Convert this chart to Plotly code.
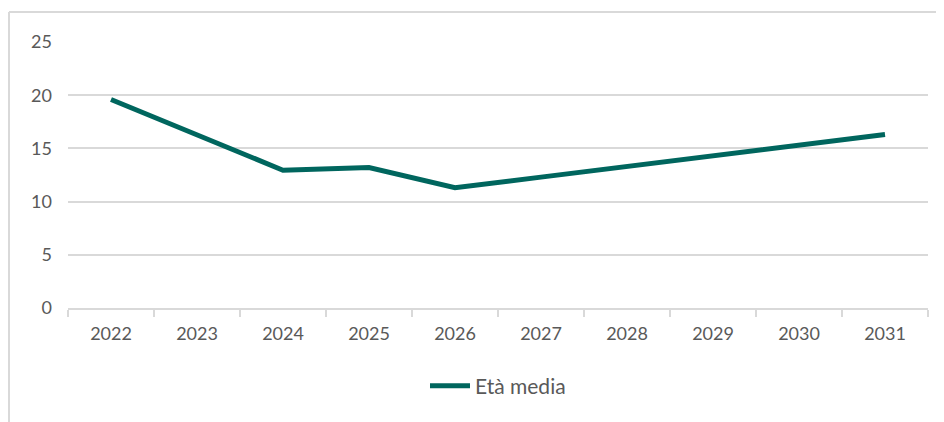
import plotly.graph_objects as go

years = ["2022", "2023", "2024", "2025", "2026", "2027", "2028", "2029", "2030", "2031"]
eta_media = [19.6, 16.3, 12.95, 13.2, 11.3, 12.3, 13.3, 14.3, 15.3, 16.3]
series_name = "Età media"
y_ticks = [0, 5, 10, 15, 20, 25]

# page body has an 8px margin; work in reference screen pixels and subtract it
OFF = 8
W, H = 944 - OFF, 422 - OFF
left, right, top, bottom = 68, 928, 42, 308  # plot area in screen pixels
L, R, T, B = left - OFF, W - (right - OFF), top - OFF, H - (bottom - OFF)
pw, ph = W - L - R, H - T - B

def px_x(x):
    return (x - OFF - L) / pw

def px_y(y):
    return (H - B - (y - OFF)) / ph

fig = go.Figure()
fig.add_trace(go.Scatter(
    x=years, y=eta_media, mode="lines", name=series_name,
    line=dict(color="#00665E", width=5),
    showlegend=True,
))

grey = "#d9d9d9"
font_color = "#595959"

fig.update_layout(
    width=W, height=H,
    margin=dict(l=L, r=R, t=T, b=B, pad=0),
    paper_bgcolor="white", plot_bgcolor="white",
    font=dict(family="Lato, 'Open Sans', sans-serif", size=18, color=font_color),
    showlegend=True,
    legend=dict(orientation="h", x=0.5, xanchor="center", y=px_y(386), yanchor="middle",
                font=dict(size=21, color=font_color), itemwidth=40),
    xaxis=dict(
        type="category", range=[-0.5, 9.5], showgrid=False, showline=True, linecolor=grey, linewidth=2,
        ticks="outside", tickson="boundaries", ticklen=7, tickcolor=grey, tickwidth=2,
        ticklabelstandoff=8, zeroline=False, fixedrange=True,
    ),
    yaxis=dict(
        range=[0, 25], tickvals=y_ticks, showgrid=True, gridcolor=grey, gridwidth=2,
        showline=False, ticks="", zeroline=False, ticklabelstandoff=15, fixedrange=True,
    ),
    shapes=[
        dict(type="line", xref="paper", yref="paper",
             x0=px_x(9), x1=px_x(960), y0=px_y(12), y1=px_y(12),
             line=dict(color=grey, width=2), layer="below"),
        dict(type="line", xref="paper", yref="paper",
             x0=px_x(9), x1=px_x(9), y0=px_y(12), y1=px_y(440),
             line=dict(color=grey, width=2), layer="below"),
    ],
)

fig.write_html("out.html")
